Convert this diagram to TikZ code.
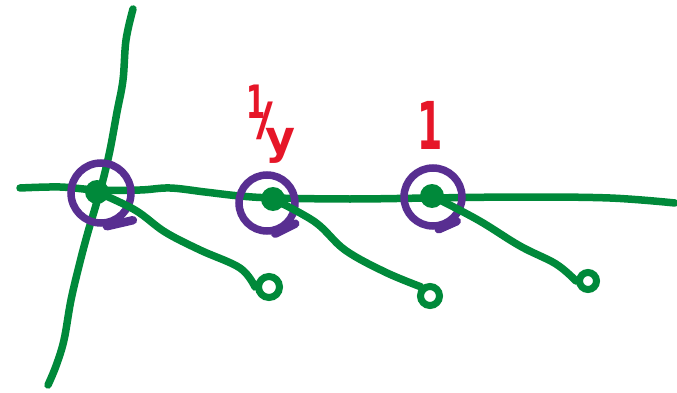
\documentclass[tikz,border=0pt]{standalone}
\usepackage{fontspec}
\setsansfont{DejaVu Sans}
\definecolor{pen}{RGB}{0,137,58}
\definecolor{ring}{RGB}{88,46,145}
\definecolor{ink}{RGB}{230,22,40}
\begin{document}
\begin{tikzpicture}[x=1pt,y=-1pt,
  stroke/.style={pen,line width=7.5pt,line cap=round,line join=round},
  dot/.style={circle,fill=pen,inner sep=0pt,minimum size=24pt},
  loop/.style={circle,draw=ring,line width=7.5pt,inner sep=0pt,minimum size=56pt},
  endring/.style={circle,draw=pen,line width=7pt,inner sep=0pt,minimum size=19pt},
  lab/.style={text=ink,font=\sffamily\bfseries}]
\useasboundingbox (0,0) rectangle (677,393);
\fill[white] (0,0) rectangle (677,393);
% axes
\draw[stroke] plot[smooth,tension=0.6] coordinates {(20,188) (60,187) (97,190) (140,190) (170,188) (205,192) (240,196) (275,198) (350,199) (430,198) (520,197) (610,198) (675,203)};
\draw[stroke] plot[smooth,tension=0.6] coordinates {(133,9) (126,40) (123,80) (117,112) (110,150) (103,180) (96,205) (88,232) (80,262) (71,300) (64,340) (56,366) (48,385)};
% points
\node[dot] (p0) at (97,192) {};
\node[dot] (p1) at (273,199) {};
\node[dot] (p2) at (432,196) {};
% rings
\node[loop,minimum size=60pt] (r0) at (101,193) {};
\node[loop] (r1) at (267,203) {};
\node[loop,minimum size=58pt] (r2) at (433,197) {};
\draw[ring,line width=8.5pt,line cap=round] (r0.-80) -- ++(26,-6);
\draw[ring,line width=8.5pt,line cap=round] (r1.-75) -- ++(20,-10);
\draw[ring,line width=8.5pt,line cap=round] (r2.-80) -- ++(18,-8);
% end rings
\node[endring,minimum size=21pt] (e0) at (269,287) {};
\node[endring] (e1) at (430,296) {};
\node[endring,minimum size=17pt] (e2) at (588,281) {};
% tails
\draw[stroke] plot[smooth,tension=0.6] coordinates {(p0) (135,210) (165,232) (200,250) (240,268) (e0.west)};
\draw[stroke] plot[smooth,tension=0.6] coordinates {(p1) (315,222) (345,250) (385,272) (e1.north west)};
\draw[stroke] plot[smooth,tension=0.6] coordinates {(p2) (478,220) (520,246) (556,264) (e2.west)};
% labels
\node[lab,font=\sffamily\bfseries\fontsize{46}{46}\selectfont] (l1) at (271,124) {\raisebox{0.7ex}{\scalebox{0.6}[1]{1}}\kern-0.2em/\kern-0.15em\raisebox{-0.7ex}{y}};
\node[lab,font=\sffamily\bfseries\fontsize{66}{66}\selectfont] (l2) at (430,125) {\scalebox{0.55}[1]{1}};
\end{tikzpicture}
\end{document}
